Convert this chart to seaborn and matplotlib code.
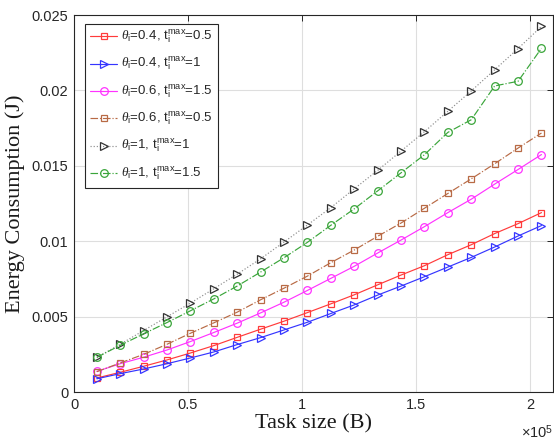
import numpy as np
import pandas as pd
import matplotlib
matplotlib.use("Agg")
import matplotlib.pyplot as plt
import seaborn as sns
from matplotlib.ticker import FuncFormatter, MultipleLocator

# ---- data ----
task_size = np.linspace(1e4, 2.05e5, 20)

e_04_05 = [0.00093, 0.00131, 0.00171, 0.00213, 0.00259, 0.00308, 0.00363, 0.00417, 0.00470, 0.00527,
           0.00585, 0.00645, 0.00711, 0.00776, 0.00838, 0.00911, 0.00977, 0.01051, 0.01117, 0.01190]
e_04_1 = [0.00088, 0.00122, 0.00153, 0.00188, 0.00226, 0.00266, 0.00315, 0.00361, 0.00412, 0.00463,
          0.00521, 0.00578, 0.00643, 0.00703, 0.00765, 0.00829, 0.00893, 0.00962, 0.01035, 0.01104]
e_06_15 = [0.00137, 0.00188, 0.00231, 0.00279, 0.00335, 0.00395, 0.00457, 0.00525, 0.00596, 0.00674,
           0.00754, 0.00834, 0.00922, 0.01008, 0.01097, 0.01190, 0.01279, 0.01379, 0.01476, 0.01575]
e_06_05 = [0.00135, 0.00193, 0.00250, 0.00317, 0.00390, 0.00459, 0.00530, 0.00612, 0.00689, 0.00769,
           0.00858, 0.00942, 0.01033, 0.01121, 0.01219, 0.01317, 0.01414, 0.01514, 0.01618, 0.01718]
e_1_1 = [0.00230, 0.00317, 0.00408, 0.00499, 0.00590, 0.00685, 0.00782, 0.00884, 0.00995, 0.01108,
         0.01223, 0.01348, 0.01470, 0.01598, 0.01727, 0.01862, 0.01997, 0.02137, 0.02278, 0.02425]
e_1_15 = [0.00230, 0.00310, 0.00386, 0.00461, 0.00539, 0.00618, 0.00703, 0.00796, 0.00891, 0.00993,
          0.01106, 0.01215, 0.01334, 0.01454, 0.01574, 0.01722, 0.01806, 0.02030, 0.02061, 0.02280]

labels = [
    r'$\theta_{\mathrm{i}}$=0.4, t$_{\mathrm{i}}^{\mathrm{max}}$=0.5',
    r'$\theta_{\mathrm{i}}$=0.4, t$_{\mathrm{i}}^{\mathrm{max}}$=1',
    r'$\theta_{\mathrm{i}}$=0.6, t$_{\mathrm{i}}^{\mathrm{max}}$=1.5',
    r'$\theta_{\mathrm{i}}$=0.6, t$_{\mathrm{i}}^{\mathrm{max}}$=0.5',
    r'$\theta_{\mathrm{i}}$=1, t$_{\mathrm{i}}^{\mathrm{max}}$=1',
    r'$\theta_{\mathrm{i}}$=1, t$_{\mathrm{i}}^{\mathrm{max}}$=1.5',
]
series = [e_04_05, e_04_1, e_06_15, e_06_05, e_1_1, e_1_15]

# ---- styles ----
styles = [
    dict(color='#ff3b3b', ls='-', marker='s', mec='#ff3b3b'),
    dict(color='#3535ff', ls='-', marker='>', mec='#3535ff'),
    dict(color='#ff33ff', ls='-', marker='o', mec='#ff33ff'),
    dict(color='#b86a45', ls='-.', marker='s', mec='#b86a45'),
    dict(color='#8c8c8c', ls=':', marker='>', mec='#333333'),
    dict(color='#3aa53a', ls='-.', marker='o', mec='#3aa53a'),
]
msizes = [4, 5.5, 5.5, 4, 5.5, 5.5]

sns.set_style('white')
plt.rcParams['font.family'] = ['Liberation Sans', 'DejaVu Sans']
plt.rcParams['mathtext.fontset'] = 'custom'
plt.rcParams['mathtext.rm'] = 'Liberation Sans'
plt.rcParams['mathtext.it'] = 'Liberation Serif:italic'

fig = plt.figure(figsize=(5.54, 4.43), dpi=100)
ax = fig.add_axes([0.1336, 0.115, 0.8644, 0.851])

for vals, lab, st, ms in zip(series, labels, styles, msizes):
    df = pd.DataFrame({'x': task_size, 'y': vals})
    sns.lineplot(data=df, x='x', y='y', ax=ax, label=lab, color=st['color'],
                 linestyle=st['ls'], marker=st['marker'], markersize=ms,
                 markerfacecolor='none', markeredgecolor=st['mec'],
                 markeredgewidth=0.9, linewidth=0.85, errorbar=None)

ax.set_xlim(0, 2.1e5)
ax.set_ylim(0, 0.025)
ax.xaxis.set_major_locator(MultipleLocator(0.5e5))
ax.yaxis.set_major_locator(MultipleLocator(0.005))
ax.xaxis.set_major_formatter(FuncFormatter(lambda v, p: ('%g' % (v / 1e5))))
ax.yaxis.set_major_formatter(FuncFormatter(lambda v, p: ('%g' % v)))
ax.grid(True, color='#dedede', linewidth=0.8)
ax.tick_params(direction='in', length=4, width=0.7, top=True, right=True,
               labelsize=10.5, colors='#262626', pad=4)
for sp in ax.spines.values():
    sp.set_visible(True)
    sp.set_color('#262626')
    sp.set_linewidth(0.8)

ax.set_xlabel('Task size (B)', fontfamily='Liberation Serif', fontsize=16, color='#1a1a1a', labelpad=2)
ax.set_ylabel('Energy Consumption (J)', fontfamily='Liberation Serif', fontsize=16, color='#1a1a1a', labelpad=5)

fig.text(0.998, 0.004, r'$\times$10$^{5}$', ha='right', va='bottom', fontsize=10.5, color='#262626')

leg = ax.legend(loc='upper left', bbox_to_anchor=(0.023, 0.977), borderaxespad=0, fontsize=9.5,
                frameon=True, fancybox=False, edgecolor='#262626', framealpha=1, handlelength=2.0,
                borderpad=0.4, labelspacing=0.78, handletextpad=0.3)
leg.get_frame().set_linewidth(0.8)

fig.savefig('out.png', dpi=100)
